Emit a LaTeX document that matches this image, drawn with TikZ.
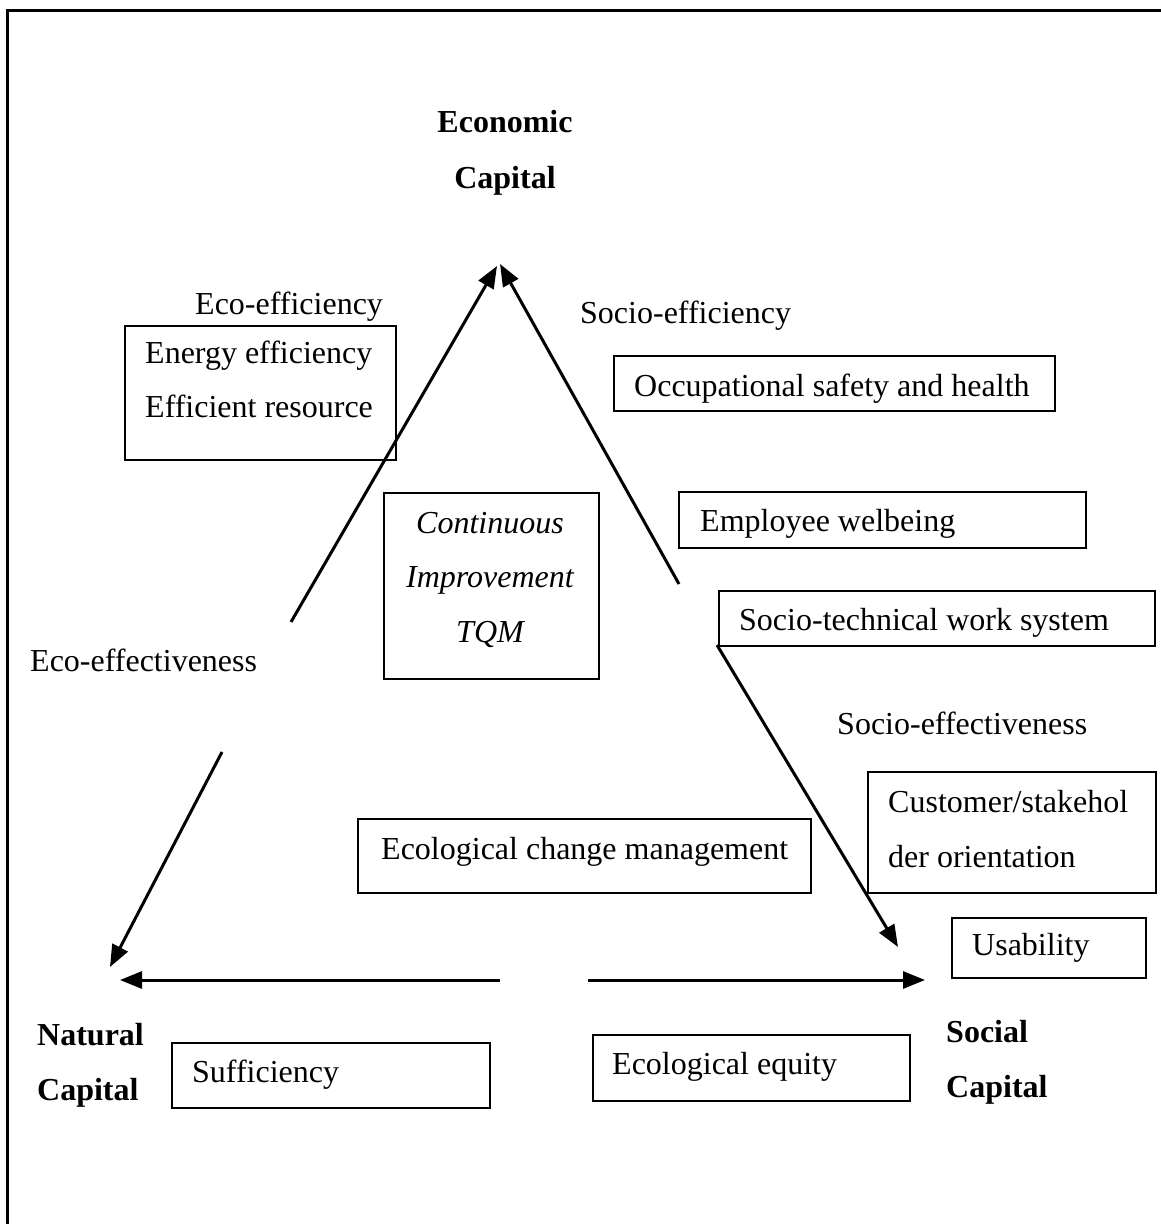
\documentclass[tikz,border=0pt]{standalone}
\usepackage{fontspec}
\setmainfont{Liberation Serif}
\usetikzlibrary{arrows.meta}
\begin{document}
\begin{tikzpicture}[x=1pt,y=-1pt,
  lbl/.style={anchor=base west, inner sep=0pt, font=\fontsize{32}{55}\selectfont},
  clbl/.style={anchor=base, inner sep=0pt, font=\fontsize{32}{55}\selectfont\itshape},
  caplbl/.style={anchor=base west, inner sep=0pt, font=\fontsize{32}{55}\selectfont\bfseries},
  box/.style={draw, line width=2pt, inner sep=0pt, anchor=north west},
  arr/.style={line width=3pt, -{Triangle[length=22pt,width=17pt]}},
]
\useasboundingbox (0,0) rectangle (1161,1224);
% page frame
\draw[line width=3pt] (7,1224) -- (7,10) -- (1161,10);

% corner labels
\node[anchor=base, inner sep=0pt, font=\fontsize{32}{55}\selectfont\bfseries] (econ1) at (505,132) {Economic};
\node[anchor=base, inner sep=0pt, font=\fontsize{32}{55}\selectfont\bfseries] (econ2) at (505,188) {Capital};
\node[caplbl] (nat1) at (37,1045) {Natural};
\node[caplbl] (nat2) at (37,1100) {Capital};
\node[caplbl] (soc1) at (946,1042) {Social};
\node[caplbl] (soc2) at (946,1097) {Capital};

% side labels
\node[lbl] (ecoeff) at (195,314) {Eco-efficiency};
\node[lbl] (socioeff) at (580,323) {Socio-efficiency};
\node[lbl] (ecoeffect) at (30,671) {Eco-effectiveness};
\node[lbl] (socioeffect) at (837,734) {Socio-effectiveness};

% boxes
\node[box, minimum width=271pt, minimum height=134pt] (energy) at (124,325) {};
\node[lbl] (energy1) at (145,363) {Energy efficiency};
\node[lbl] (energy2) at (145,417) {Efficient resource};

\node[box, minimum width=441pt, minimum height=55pt] (occ) at (613,355) {};
\node[lbl] (occt) at (634,396) {Occupational safety and health};

\node[box, minimum width=215pt, minimum height=186pt] (ci) at (383,492) {};
\node[clbl] (ci1) at (490,533) {Continuous};
\node[clbl] (ci2) at (490,587) {Improvement};
\node[clbl] (ci3) at (490,642) {TQM};

\node[box, minimum width=407pt, minimum height=56pt] (emp) at (678,491) {};
\node[lbl] (empt) at (700,531) {Employee welbeing};

\node[box, minimum width=436pt, minimum height=55pt] (sts) at (718,590) {};
\node[lbl] (stst) at (739,630) {Socio-technical work system};

\node[box, minimum width=288pt, minimum height=121pt] (cust) at (867,771) {};
\node[lbl] (cust1) at (888,812) {Customer/stakehol};
\node[lbl] (cust2) at (888,867) {der orientation};

\node[box, minimum width=453pt, minimum height=74pt] (ecm) at (357,818) {};
\node[lbl] (ecmt) at (381,859) {Ecological change management};

\node[box, minimum width=194pt, minimum height=60pt] (usa) at (951,917) {};
\node[lbl] (usat) at (972,955) {Usability};

\node[box, minimum width=318pt, minimum height=65pt] (suff) at (171,1042) {};
\node[lbl] (sufft) at (192,1082) {Sufficiency};

\node[box, minimum width=317pt, minimum height=66pt] (equity) at (592,1034) {};
\node[lbl] (equityt) at (612,1074) {Ecological equity};

% triangle of arrows
\coordinate (top1) at (497,266);
\coordinate (top2) at (500,264);
\coordinate (l1s) at (291,622);
\coordinate (r1s) at (679,584);
\coordinate (l2s) at (222,752);
\coordinate (l2e) at (110,967);
\coordinate (r2s) at (717,645);
\coordinate (r2e) at (898,947);
\coordinate (bls) at (500,980);
\coordinate (ble) at (120,980);
\coordinate (brs) at (588,980);
\coordinate (bre) at (925,980);

\draw[arr] (l1s) -- (top1);
\draw[arr] (r1s) -- (top2);
\draw[arr] (l2s) -- (l2e);
\draw[arr] (r2s) -- (r2e);
\draw[arr] (bls) -- (ble);
\draw[arr] (brs) -- (bre);
\end{tikzpicture}
\end{document}
